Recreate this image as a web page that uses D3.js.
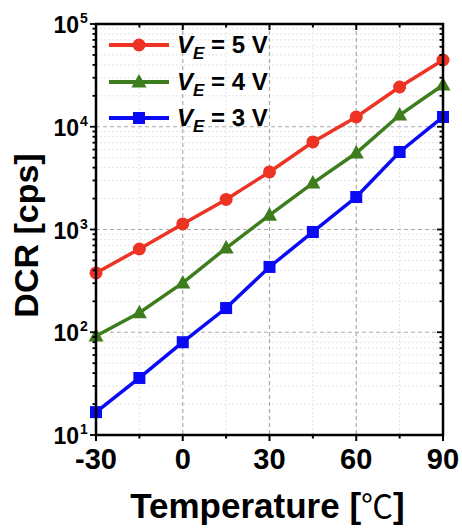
<!DOCTYPE html>
<html><head><meta charset="utf-8">
<script src="https://cdn.jsdelivr.net/npm/d3@7"></script>
<style>body{margin:0;background:#fff}svg{display:block}text{font-family:"Liberation Sans",Arial,sans-serif;font-weight:bold;fill:#000}</style>
</head><body><svg id="c" width="462" height="529"></svg>
<script>
const temps = [-30, -15, 0, 15, 30, 45, 60, 75, 90];
const dcr5V = [378, 646, 1132, 1960, 3630, 7110, 12450, 24370, 44650];
const dcr4V = [92, 155, 302, 660, 1380, 2830, 5550, 13000, 25500];
const dcr3V = [16.7, 35.9, 80, 172, 432, 946, 2070, 5680, 12450];
const seriesLabels = ["5", "4", "3"];
const xTicks = [-30, 0, 30, 60, 90];
const xMinorTicks = [-15, 15, 45, 75];
const yDecades = [1, 2, 3, 4, 5];

const series = [
  {v: seriesLabels[0], data: dcr5V, color: "#ec3324", shape: "circle"},
  {v: seriesLabels[1], data: dcr4V, color: "#3d7d1e", shape: "triangle"},
  {v: seriesLabels[2], data: dcr3V, color: "#0a0af5", shape: "square"}
];

const L = 96, R = 443, T = 24, B = 435;
const svg = d3.select("#c");
const x = d3.scaleLinear().domain([-30, 90]).range([L, R]);
const y = d3.scaleLog().domain([10, 1e5]).range([B, T]);

const yMinor = [];
yDecades.slice(0, -1).forEach(e => { for (let k = 2; k <= 9; k++) yMinor.push(k * Math.pow(10, e)); });
const yMajor = yDecades.map(e => Math.pow(10, e));

const g = svg.append("g");
g.selectAll(".mgx").data(xMinorTicks).join("line")
  .attr("x1", d => x(d)).attr("x2", d => x(d)).attr("y1", T).attr("y2", B)
  .attr("stroke", "#e4e4e4").attr("stroke-width", 1).attr("stroke-dasharray", "2,2");
g.selectAll(".mgy").data(yMinor).join("line")
  .attr("x1", L).attr("x2", R).attr("y1", d => y(d)).attr("y2", d => y(d))
  .attr("stroke", "#e4e4e4").attr("stroke-width", 1).attr("stroke-dasharray", "2,2");
g.selectAll(".gx").data(xTicks.slice(1, -1)).join("line")
  .attr("x1", d => x(d)).attr("x2", d => x(d)).attr("y1", T).attr("y2", B)
  .attr("stroke", "#aaaaaa").attr("stroke-width", 1.2).attr("stroke-dasharray", "4,3");
g.selectAll(".gy").data(yMajor.slice(1, -1)).join("line")
  .attr("x1", L).attr("x2", R).attr("y1", d => y(d)).attr("y2", d => y(d))
  .attr("stroke", "#aaaaaa").attr("stroke-width", 1.2).attr("stroke-dasharray", "4,3");

function marker(sel, shape, color) {
  if (shape === "circle") sel.append("circle").attr("r", 6.5).attr("fill", color);
  else if (shape === "square") sel.append("rect").attr("x", -6).attr("y", -6).attr("width", 12).attr("height", 12).attr("fill", color);
  else sel.append("path").attr("d", "M0,-8L7.5,5.5L-7.5,5.5Z").attr("fill", color);
}

const line = d3.line().x((d, i) => x(temps[i])).y(d => y(d));
series.forEach(s => {
  g.append("path").datum(s.data).attr("d", line).attr("fill", "none")
    .attr("stroke", s.color).attr("stroke-width", 3.5);
  s.data.forEach((d, i) => {
    const m = g.append("g").attr("transform", `translate(${x(temps[i])},${y(d)})`);
    marker(m, s.shape, s.color);
  });
});

const ax = svg.append("g");
ax.append("rect").attr("x", L).attr("y", T).attr("width", R - L).attr("height", B - T)
  .attr("fill", "none").attr("stroke", "#000").attr("stroke-width", 2.5);
const allX = xTicks.map(d => [d, 6]).concat(xMinorTicks.map(d => [d, 3.5]));
allX.forEach(([d, len]) => {
  ax.append("line").attr("x1", x(d)).attr("x2", x(d)).attr("y1", B).attr("y2", B + len).attr("stroke", "#000").attr("stroke-width", 2);
  ax.append("line").attr("x1", x(d)).attr("x2", x(d)).attr("y1", T).attr("y2", T + len).attr("stroke", "#000").attr("stroke-width", 2);
});
const allY = yMajor.map(d => [d, 6]).concat(yMinor.map(d => [d, 3.5]));
allY.forEach(([d, len]) => {
  ax.append("line").attr("x1", L - len).attr("x2", L).attr("y1", y(d)).attr("y2", y(d)).attr("stroke", "#000").attr("stroke-width", 1.8);
  ax.append("line").attr("x1", R - len).attr("x2", R).attr("y1", y(d)).attr("y2", y(d)).attr("stroke", "#000").attr("stroke-width", 1.8);
});

xTicks.forEach(d => {
  ax.append("text").attr("x", x(d)).attr("y", 469).attr("text-anchor", "middle")
    .attr("font-size", 29).text(d);
});
yDecades.forEach(e => {
  const yy = y(Math.pow(10, e));
  ax.append("text").attr("x", 79).attr("y", yy + 9).attr("text-anchor", "end").attr("font-size", 23).text("10");
  ax.append("text").attr("x", 80).attr("y", yy - 1).attr("font-size", 14).text(e);
});

const xt = svg.append("text").attr("x", (L + R) / 2 - 2).attr("y", 518).attr("text-anchor", "middle")
  .attr("font-size", 35);
xt.append("tspan").text("Temperature [");
xt.append("tspan").attr("font-family", "'Noto Sans CJK SC', 'Noto Sans CJK JP', sans-serif").attr("font-weight", "normal").attr("font-size", 32).text("℃");
xt.append("tspan").text("]");
svg.append("text").attr("transform", `translate(38,${(T + B) / 2 + 6}) rotate(-90)`)
  .attr("text-anchor", "middle").attr("font-size", 34).text("DCR [cps]");

const legY = [45, 82, 118];
series.forEach((s, i) => {
  const lg = svg.append("g").attr("transform", `translate(0,${legY[i]})`);
  lg.append("line").attr("x1", 109).attr("x2", 169).attr("stroke", s.color).attr("stroke-width", 4);
  const m = lg.append("g").attr("transform", "translate(139,0)");
  marker(m, s.shape, s.color);
  const t = lg.append("text").attr("x", 177).attr("y", 8).attr("font-size", 24);
  t.append("tspan").attr("font-style", "italic").text("V");
  t.append("tspan").attr("font-style", "italic").attr("font-size", 17).attr("dy", 6).text("E");
  t.append("tspan").attr("dy", -6).text(" = " + s.v + " V");
});
</script></body></html>
